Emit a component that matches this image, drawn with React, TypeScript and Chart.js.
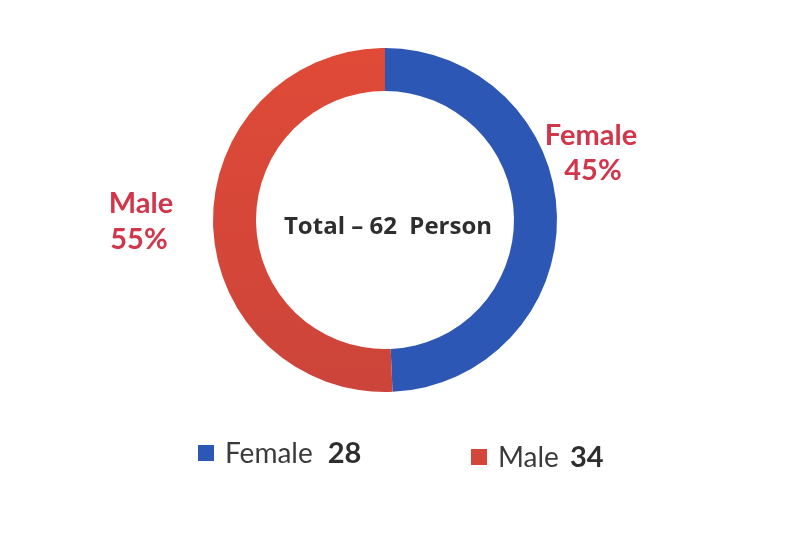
import React, { useEffect, useRef } from "react";
import { Chart, registerables } from "chart.js";

Chart.register(...registerables);

// Data
const categories = ["Female", "Male"];
const counts = [28, 34];
const percentLabels = ["45%", "55%"];
// Angular share of the ring as drawn in the picture (blue ends just short of 6 o'clock)
const ringShare = [49.3, 50.7];
const totalLabel = "Total \u2013 62  Person";

const FONT = "Lato, 'Open Sans', sans-serif";
const BLUE = "#2d57b4";
const LABEL_RED = "#d2364b";
const TEXT_DARK = "#2e2e2e";

export default function App() {
  const ref = useRef<HTMLCanvasElement | null>(null);

  useEffect(() => {
    document.body.style.margin = "0";
    const canvas = ref.current;
    if (!canvas) return;

    const textPlugin = {
      id: "textPlugin",
      afterDraw(chart: any) {
        const ctx = chart.ctx as CanvasRenderingContext2D;
        ctx.save();
        // center text
        ctx.fillStyle = TEXT_DARK;
        ctx.font = `bold 24px 'Open Sans', sans-serif`;
        ctx.textAlign = "center";
        ctx.textBaseline = "alphabetic";
        ctx.fillText(totalLabel, 388, 234);

        // outside labels
        ctx.fillStyle = LABEL_RED;
        ctx.font = `bold 29px ${FONT}`;
        ctx.fillText(categories[0], 591, 145);
        ctx.fillText(percentLabels[0], 593, 180);
        ctx.fillText(categories[1], 141, 213);
        ctx.fillText(percentLabels[1], 139, 249);

        // legend
        const items = [
          { x: 198, y: 445, base: 463, color: BLUE },
          { x: 471, y: 449, base: 467, color: "#d4453a" },
        ];
        items.forEach((it, i) => {
          ctx.fillStyle = it.color;
          ctx.fillRect(it.x, it.y, 16, 16);
          ctx.textAlign = "left";
          ctx.fillStyle = "#3a3a3a";
          ctx.font = `28px ${FONT}`;
          const tx = it.x + 27;
          ctx.fillText(categories[i], tx, it.base);
          const w = ctx.measureText(categories[i]).width;
          ctx.fillStyle = TEXT_DARK;
          ctx.font = `bold 29px ${FONT}`;
          ctx.fillText(String(counts[i]), tx + w + (i === 0 ? 15 : 11), it.base);
        });
        ctx.restore();
      },
    };

    const chart = new Chart(canvas, {
      type: "doughnut",
      data: {
        labels: categories,
        datasets: [
          {
            data: ringShare,
            backgroundColor: (c: any) => {
              if (c.dataIndex === 0) return BLUE;
              const area = c.chart.chartArea;
              if (!area) return "#d4453a";
              const g = c.chart.ctx.createLinearGradient(0, area.top, 0, area.bottom);
              g.addColorStop(0, "#e04a37");
              g.addColorStop(1, "#cc443a");
              return g;
            },
            borderWidth: 0,
          },
        ],
      },
      options: {
        responsive: false,
        animation: false,
        cutout: "75%",
        layout: { padding: { top: 48, bottom: 155, left: 213, right: 243 } },
        plugins: {
          legend: { display: false },
          tooltip: { enabled: false },
        },
      },
      plugins: [textPlugin],
    });
    return () => chart.destroy();
  }, []);

  return (
    <div style={{ width: 800, height: 547, background: "#fff" }}>
      <canvas ref={ref} width={800} height={547} />
    </div>
  );
}
